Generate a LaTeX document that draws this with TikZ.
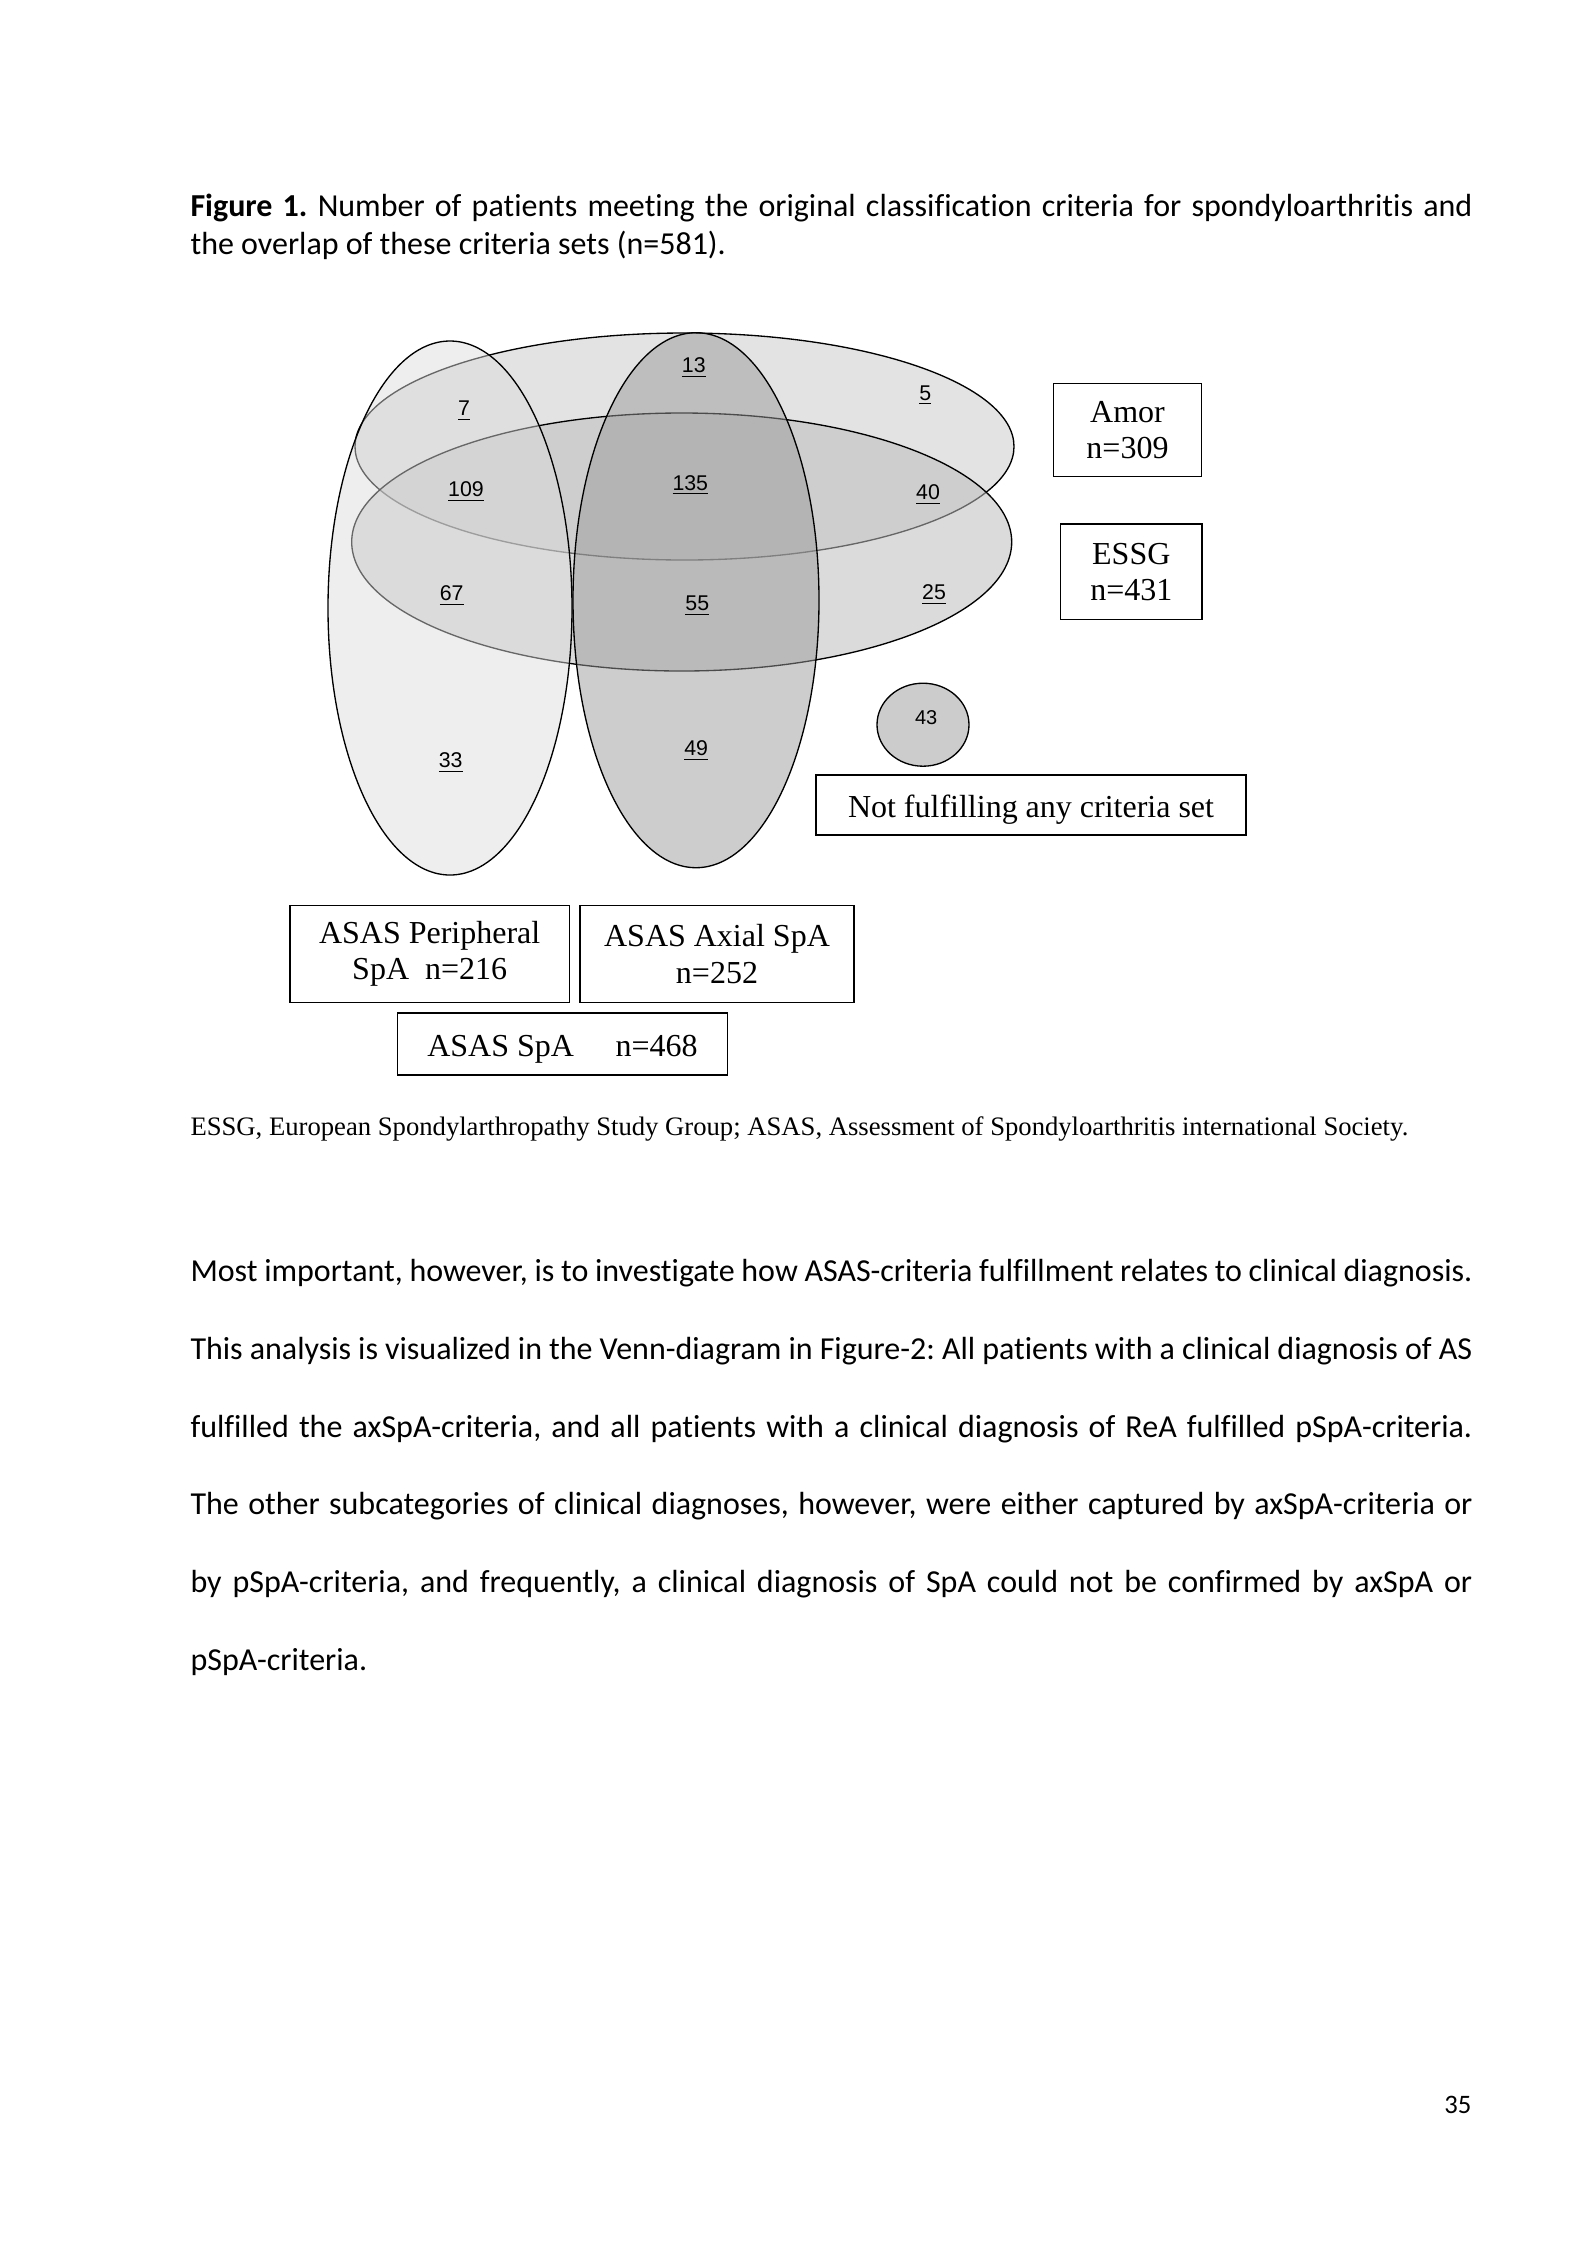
\documentclass[tikz,border=0pt]{standalone}
\usepackage{fontspec}
\setmainfont{Carlito}[Ligatures=NoCommon]
\newfontfamily\timesfont{Liberation Serif}[Ligatures=NoCommon]
\newfontfamily\arialfont{Liberation Sans}

% one pixel of the page
\newlength\pxu
\setlength\pxu{0.13183mm}

\definecolor{amorfill}{gray}{0.80}
\definecolor{essgfill}{gray}{0.74}
\definecolor{periphfill}{gray}{0.86}
\definecolor{axialfill}{gray}{0.60}
\definecolor{nonefill}{gray}{0.80}

\tikzset{
  setbox/.style={draw, line width=0.5pt, inner sep=0pt, align=center,
    font=\timesfont\fontsize{12}{13.6}\selectfont,
    execute at begin node={\rule{0pt}{#1}}},
  setbox/.default=11.6pt,
  count/.style={anchor=base, inner sep=0pt,
    font=\arialfont\fontsize{8}{9.6}\selectfont},
  setline/.style={line width=0.5pt},
}

\begin{document}
\frenchspacing
\begin{tikzpicture}[x=0.13183mm, y=-0.13183mm]
    % Page
    \fill[white] (0,0) rectangle (1593,2250);
    \useasboundingbox (0,0) rectangle (1593,2250);

    % Caption
    \node[anchor=base west, inner sep=0pt, text width=169mm, align=justify,
      font=\fontsize{12}{14.1}\selectfont] (caption) at (190,216.7)
      {\textbf{Figure 1.} Number of patients meeting the original classification criteria for spondyloarthritis and\linebreak
       the overlap of these criteria sets (n=581).};

    % Draw the criteria sets
    \draw[setline, fill=amorfill, fill opacity=0.54] (684.5,446.5) ellipse [x radius=329.5, y radius=113.5];
    \draw[setline, fill=essgfill, fill opacity=0.54] (681.7,542) ellipse [x radius=330, y radius=129];
    \draw[setline, fill=periphfill, fill opacity=0.47] (450,608) ellipse [x radius=122, y radius=267];
    \draw[setline, fill=axialfill, fill opacity=0.49] (696,600.2) ellipse [x radius=123, y radius=267.5];
    \draw[setline, fill=nonefill] (923,724.7) ellipse [x radius=46, y radius=41.5];

    % Numbered entries
    \node[count] (n7) at (464,415.7) {\underline{7}};
    \node[count] (n109) at (466,496.7) {\underline{109}};
    \node[count] (n67) at (451.7,600.7) {\underline{67}};
    \node[count] (n33) at (450.7,767.3) {\underline{33}};
    \node[count] (n13) at (693.8,372.7) {\underline{13}};
    \node[count] (n135) at (690.3,490) {\underline{135}};
    \node[count] (n55) at (697.3,610.7) {\underline{55}};
    \node[count] (n49) at (696.2,755.7) {\underline{49}};
    \node[count] (n5) at (925.3,400) {\underline{5}};
    \node[count] (n40) at (928,499.3) {\underline{40}};
    \node[count] (n25) at (934,599.3) {\underline{25}};
    \node[count, font=\arialfont\fontsize{7.5}{9}\selectfont] (n43) at (926.2,724) {43};

    % Set labels
    \node[setbox=14.3pt, minimum width=148.4\pxu, minimum height=93.4\pxu] (amorbox) at (1127.5,430) {Amor\\n=309};
    \node[setbox=13.2pt, minimum width=141.3\pxu, minimum height=95.3\pxu] (essgbox) at (1131.3,571.7) {ESSG\\n=431};
    \node[setbox, minimum width=430\pxu, minimum height=60\pxu] (nonebox) at (1031,805) {Not fulfilling any criteria set};
    \node[setbox=14.2pt, minimum width=279.3\pxu, minimum height=96.6\pxu] (periphbox) at (429.7,954) {ASAS Peripheral\\SpA\ \ n=216};
    \node[setbox, minimum width=274\pxu, minimum height=96.6\pxu] (axialbox) at (717,954) {ASAS Axial SpA\\n=252};
    \node[setbox, minimum width=330.4\pxu, minimum height=62\pxu] (spabox) at (562.5,1044) {ASAS SpA\hspace{1.3em}n=468};

    % Abbreviations
    \node[anchor=base west, inner sep=0pt, font=\timesfont\fontsize{10}{12}\selectfont] (abbrev) at (190,1135)
      {ESSG, European Spondylarthropathy Study Group; ASAS, Assessment of Spondyloarthritis international Society.};

    % Body text
    \node[anchor=base west, inner sep=0pt, text width=169mm, align=justify,
      font=\fontsize{12}{29.16}\selectfont] (bodytext) at (190,1281.7)
      {\hyphenpenalty=10000\exhyphenpenalty=10000
       Most important, however, is to investigate how ASAS-criteria fulfillment relates to clinical diagnosis.\linebreak
       This analysis is visualized in the Venn-diagram in Figure-2: All patients with a clinical diagnosis of AS\linebreak
       fulfilled the axSpA-criteria, and all patients with a clinical diagnosis of ReA fulfilled pSpA-criteria.\linebreak
       The other subcategories of clinical diagnoses, however, were either captured by axSpA-criteria or\linebreak
       by pSpA-criteria, and frequently, a clinical diagnosis of SpA could not be confirmed by axSpA or\linebreak
       pSpA-criteria.};

    % Page number
    \node[anchor=base east, inner sep=0pt] (pagenum) at (1472,2113.3) {35};
\end{tikzpicture}
\end{document}
